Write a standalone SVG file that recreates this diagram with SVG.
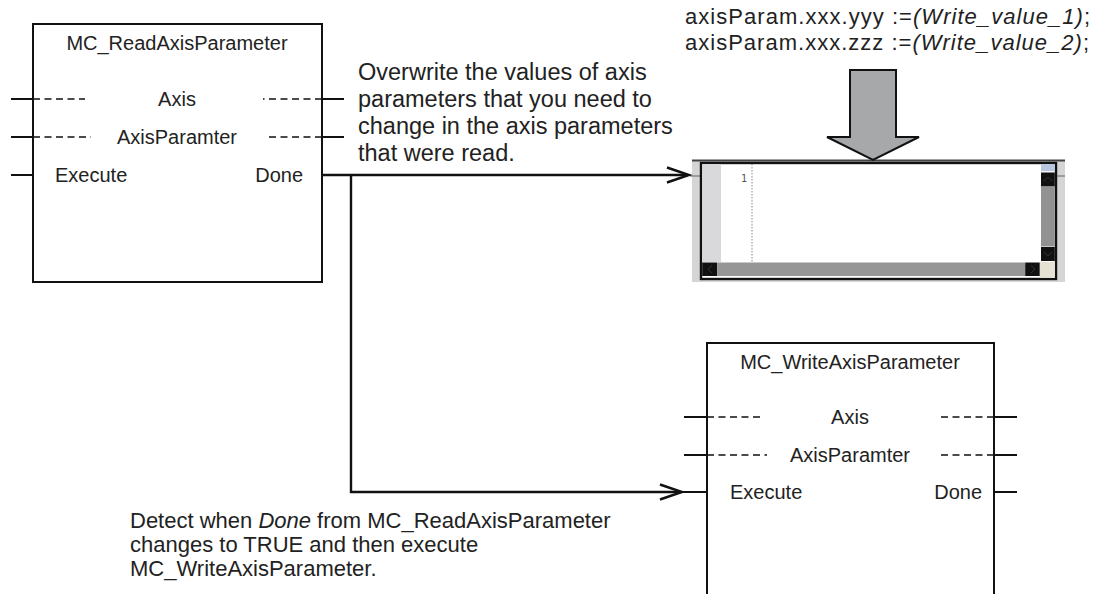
<svg xmlns="http://www.w3.org/2000/svg" width="1097" height="594" viewBox="0 0 1097 594">
<style>
text{font-family:"Liberation Sans",Arial,sans-serif;fill:#222}
.blk{font-size:20px}
.note{font-size:23.5px}
.code{font-size:22px}
.bot{font-size:22px}
.box{fill:#fff;stroke:#111;stroke-width:2}
.pin{stroke:#111;stroke-width:2;fill:none}
.dash{stroke:#111;stroke-width:1.6;stroke-dasharray:7 4.5;fill:none}
.wire{stroke:#111;stroke-width:2.4;fill:none}
.chev{stroke:#111;stroke-width:2.4;fill:none;stroke-linejoin:miter}
</style>
<rect width="1097" height="594" fill="#fff"/>

<g id="read-block">
<rect class="box" x="33" y="24" width="289" height="258"/>
<text class="blk" x="177" y="50" text-anchor="middle">MC_ReadAxisParameter</text>
<line class="pin" x1="11" y1="99" x2="33" y2="99"/>
<line class="dash" x1="33" y1="99" x2="85" y2="99"/>
<line class="dash" x1="322" y1="99" x2="263" y2="99"/>
<line class="pin" x1="322" y1="99" x2="344" y2="99"/>
<text class="blk" x="177" y="106" text-anchor="middle">Axis</text>
<line class="pin" x1="11" y1="137" x2="33" y2="137"/>
<line class="dash" x1="33" y1="137" x2="91" y2="137"/>
<line class="dash" x1="322" y1="137" x2="268" y2="137"/>
<line class="pin" x1="322" y1="137" x2="344" y2="137"/>
<text class="blk" x="177" y="144" text-anchor="middle">AxisParamter</text>
<line class="pin" x1="11" y1="175" x2="33" y2="175"/>
<text class="blk" x="55" y="182">Execute</text>
<text class="blk" x="303" y="182" text-anchor="end">Done</text>
</g>

<g id="write-block">
<rect class="box" x="707" y="343" width="287" height="270"/>
<text class="blk" x="850" y="369" text-anchor="middle">MC_WriteAxisParameter</text>
<line class="pin" x1="684" y1="417" x2="707" y2="417"/>
<line class="dash" x1="707" y1="417" x2="761" y2="417"/>
<line class="dash" x1="994" y1="417" x2="941" y2="417"/>
<line class="pin" x1="994" y1="417" x2="1017" y2="417"/>
<text class="blk" x="850" y="424" text-anchor="middle">Axis</text>
<line class="pin" x1="684" y1="455" x2="707" y2="455"/>
<line class="dash" x1="707" y1="455" x2="767" y2="455"/>
<line class="dash" x1="994" y1="455" x2="941" y2="455"/>
<line class="pin" x1="994" y1="455" x2="1017" y2="455"/>
<text class="blk" x="850" y="462" text-anchor="middle">AxisParamter</text>
<line class="pin" x1="682" y1="492" x2="707" y2="492"/>
<line class="pin" x1="994" y1="492" x2="1017" y2="492"/>
<text class="blk" x="730" y="499">Execute</text>
<text class="blk" x="982" y="499" text-anchor="end">Done</text>
</g>

<g id="editor">
<rect x="692" y="160" width="373" height="122" fill="#d5d5d5"/>
<line x1="692" y1="160.5" x2="1065" y2="160.5" stroke="#444" stroke-width="2"/>
<line x1="690" y1="176" x2="701" y2="176" stroke="#777" stroke-width="1.2"/>
<line x1="1056" y1="176" x2="1065" y2="176" stroke="#777" stroke-width="1.2"/>
<rect x="701" y="163" width="355" height="116" fill="#fff" stroke="#111" stroke-width="2.4"/>
<rect x="702.2" y="164.2" width="18.8" height="98" fill="#d9d9dc"/>
<text x="747" y="182" text-anchor="end" style="font-family:'DejaVu Sans Mono',monospace;font-size:10px;fill:#555">1</text>
<line x1="752" y1="164" x2="752" y2="262" stroke="#888" stroke-width="1" stroke-dasharray="1.5 1.5"/>
<rect x="1041" y="164.2" width="13.8" height="7" fill="#b9c7de"/>
<rect x="1041" y="172.5" width="13.8" height="14" fill="#111"/>
<rect x="1041" y="187" width="13.8" height="59.5" fill="#929292"/>
<rect x="1041" y="247" width="13.8" height="14" fill="#111"/>
<rect x="702.2" y="262.5" width="15" height="13.5" fill="#111"/>
<rect x="717.2" y="262.5" width="308" height="13.5" fill="#969696"/>
<rect x="1025.2" y="262.5" width="14.5" height="13.5" fill="#111"/>
<rect x="1040" y="262" width="14.8" height="15.8" fill="#e6e2d3"/>
<path d="M1044,181 L1048,177 L1052,181 M1044,252 L1048,256 L1052,252 M712,265.5 L708,269.2 L712,273 M1031,265.5 L1035,269.2 L1031,273" stroke="#333" stroke-width="1" fill="none"/>
</g>

<g id="big-arrow">
<polygon points="850,70 896,70 896,137 919,137 873,160 827,137 850,137" fill="#a7a8aa" stroke="#111" stroke-width="2" stroke-linejoin="miter"/>
</g>

<g id="connectors">
<polyline class="wire" points="322,175 688,175"/>
<polyline class="chev" points="667,167.5 689,175 667,182.5"/>
<polyline class="wire" points="351,175 351,492 681,492"/>
<polyline class="chev" points="660,484.5 682,492 660,499.5"/>
</g>

<g id="labels">
<text class="code" x="685" y="24" textLength="405" lengthAdjust="spacing">axisParam.xxx.yyy :=<tspan font-style="italic">(Write_value_1)</tspan>;</text>
<text class="code" x="685" y="50" textLength="404" lengthAdjust="spacing">axisParam.xxx.zzz :=<tspan font-style="italic">(Write_value_2)</tspan>;</text>
<text class="note" x="358" y="80">Overwrite the values of axis</text>
<text class="note" x="358" y="107">parameters that you need to</text>
<text class="note" x="358" y="134">change in the axis parameters</text>
<text class="note" x="358" y="161">that were read.</text>
<text class="bot" x="130" y="528">Detect when <tspan font-style="italic">Done</tspan> from MC_ReadAxisParameter</text>
<text class="bot" x="130" y="552">changes to TRUE and then execute</text>
<text class="bot" x="130" y="576">MC_WriteAxisParameter.</text>
</g>
</svg>
